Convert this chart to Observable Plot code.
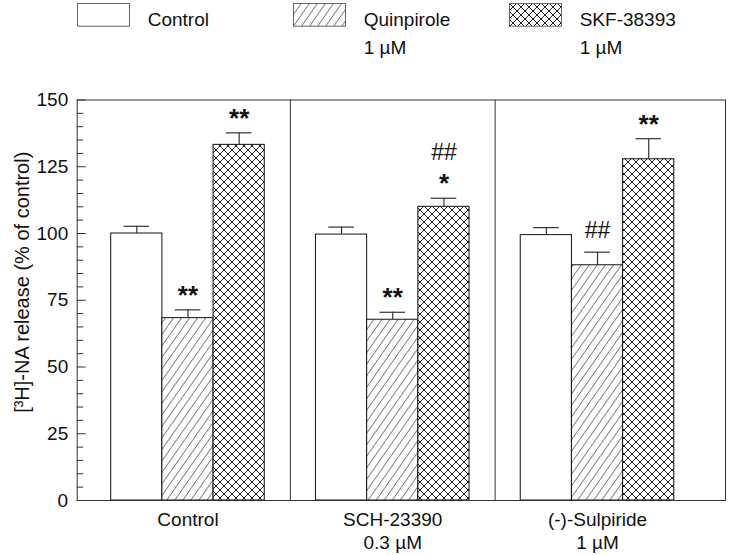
<!DOCTYPE html>
<html><head><meta charset="utf-8">
<script src="https://cdn.jsdelivr.net/npm/d3@7"></script>
<script src="https://cdn.jsdelivr.net/npm/@observablehq/plot@0.6"></script>
<style>
body{margin:0;background:#fff;font-family:"Liberation Sans",Arial,sans-serif;}
#legend{position:relative;height:70px;width:729px;}
.item{position:absolute;top:0;display:flex;align-items:flex-start;}
.item svg{margin-top:3.3px;display:block;}
.item .lab{margin-left:17.7px;margin-top:6.25px;font-size:19px;line-height:27.7px;color:#111;white-space:pre;}
</style></head><body>
<svg width="0" height="0" style="position:absolute">
<defs>
<pattern id="hatch" patternUnits="userSpaceOnUse" width="6.6" height="10" patternTransform="rotate(35)">
<rect width="6.6" height="10" fill="#fff"/>
<path d="M0,-1 L0,11" stroke="#222" stroke-width="1.1"/>
</pattern>
<pattern id="cross" patternUnits="userSpaceOnUse" width="8" height="8">
<rect width="8" height="8" fill="#fff"/>
<path d="M0,0 L8,8 M8,0 L0,8" stroke="#222" stroke-width="1"/>
</pattern>
</defs></svg>
<div id="legend"></div>
<div id="chart"></div>
<script>
// ---- data ----
const groups = ["Control", "SCH-23390\n0.3 µM", "(-)-Sulpiride\n1 µM"];
const treatments = ["Control", "Quinpirole\n1 µM", "SKF-38393\n1 µM"];
const meansControl = [100.0, 68.3, 133.2];
const meansSCH = [99.6, 67.7, 110.0];
const meansSulpiride = [99.4, 88.1, 127.8];
const semControl = [2.7, 3.1, 4.5];
const semSCH = [2.8, 2.8, 3.2];
const semSulpiride = [2.8, 4.9, 7.7];
const starsControl = ["", "**", "**"];
const starsSCH = ["", "**", "*"];
const starsSulpiride = ["", "", "**"];
const hashControl = ["", "", ""];
const hashSCH = ["", "", "##"];
const hashSulpiride = ["", "##", ""];
const yTicks = [0, 25, 50, 75, 100, 125, 150];
const yLabel = "[³H]-NA release (% of control)";

const means = [meansControl, meansSCH, meansSulpiride];
const sems = [semControl, semSCH, semSulpiride];
const stars = [starsControl, starsSCH, starsSulpiride];
const hashes = [hashControl, hashSCH, hashSulpiride];
const fills = ["#fff", "url(#hatch)", "url(#cross)"];

const rows = groups.flatMap((g, gi) => treatments.map((t, ti) => ({
  group: g, treatment: t, pos: gi * 4 + ti,
  mean: means[gi][ti], sem: sems[gi][ti], stars: stars[gi][ti], hash: hashes[gi][ti]
})));
const separators = groups.slice(1).map((g, i) => (i + 1) * 4 - 0.5);
const groupTicks = groups.map((g, i) => i * 4 + 1.5);
const minorTicks = d3.range(0, 151, 5).filter(v => v % 25 !== 0);

// ---- legend ----
const legend = document.getElementById("legend");
treatments.forEach((t, i) => {
  const item = document.createElement("div");
  item.className = "item";
  item.style.left = (77 + i * 216) + "px";
  item.innerHTML = `<svg width="53" height="24"><rect x="0.5" y="0.5" width="52" height="22.7" fill="${fills[i]}" stroke="#666" stroke-width="1"/></svg><div class="lab"></div>`;
  item.querySelector(".lab").textContent = t;
  legend.appendChild(item);
});

// ---- chart ----
const errTop = d => d.mean + d.sem;
const mid = d => d.pos + 0.5;
const chart = Plot.plot({
  width: 729,
  height: 485,
  marginLeft: 76.7,
  marginRight: 4,
  marginTop: 29.5,
  marginBottom: 55,
  style: {fontFamily: "Liberation Sans, Arial, sans-serif", fontSize: "19px", background: "#fff", color: "#111", overflow: "visible"},
  x: {type: "linear", domain: [-0.664, 12]},
  y: {domain: [0, 150]},
  color: {domain: treatments, range: fills},
  marks: [
    Plot.rect(rows, {x1: "pos", x2: d => d.pos + 1, y1: 0, y2: "mean", fill: "treatment", stroke: "#111", strokeWidth: 1}),
    Plot.ruleX(rows, {x: mid, y1: "mean", y2: errTop, stroke: "#333", strokeWidth: 1.2}),
    Plot.ruleY(rows, {x1: d => d.pos + 0.25, x2: d => d.pos + 0.75, y: errTop, stroke: "#333", strokeWidth: 1.2}),
    Plot.text(rows.filter(d => d.stars), {x: mid, y: errTop, text: "stars", lineAnchor: "bottom", dy: -6, fontSize: 26, fontWeight: "bold", fill: "#111"}),
    Plot.text(rows.filter(d => d.hash && d.stars), {x: mid, y: errTop, text: "hash", lineAnchor: "bottom", dy: -38.7, fontSize: 23, fill: "#111"}),
    Plot.text(rows.filter(d => d.hash && !d.stars), {x: mid, y: errTop, text: "hash", lineAnchor: "bottom", dy: -13.7, fontSize: 23, fill: "#111"}),
    Plot.ruleX(separators, {stroke: "#333", strokeWidth: 1}),
    Plot.frame({stroke: "#333", strokeWidth: 1}),
    Plot.axisY({ticks: yTicks, tickSize: -9, fill: "none", label: null, stroke: "#333"}),
    Plot.axisY({ticks: minorTicks, tickSize: -6.5, fill: "none", label: null, stroke: "#333"}),
    Plot.axisY({ticks: yTicks, tickSize: 0, tickPadding: 9, label: null, fontSize: 19}),
    Plot.axisX({ticks: groupTicks, tickSize: 0, tickPadding: 8, label: null, fontSize: 19, lineHeight: 1.26,
      tickFormat: d => groups[Math.round((d - 1.5) / 4)]}),
    Plot.text([yLabel], {text: d => d, frameAnchor: "left", textAnchor: "middle", rotate: -90, dx: -55, dy: -18, fontSize: 20, fill: "#111"})
  ]
});
document.getElementById("chart").appendChild(chart);
</script>
</body></html>
